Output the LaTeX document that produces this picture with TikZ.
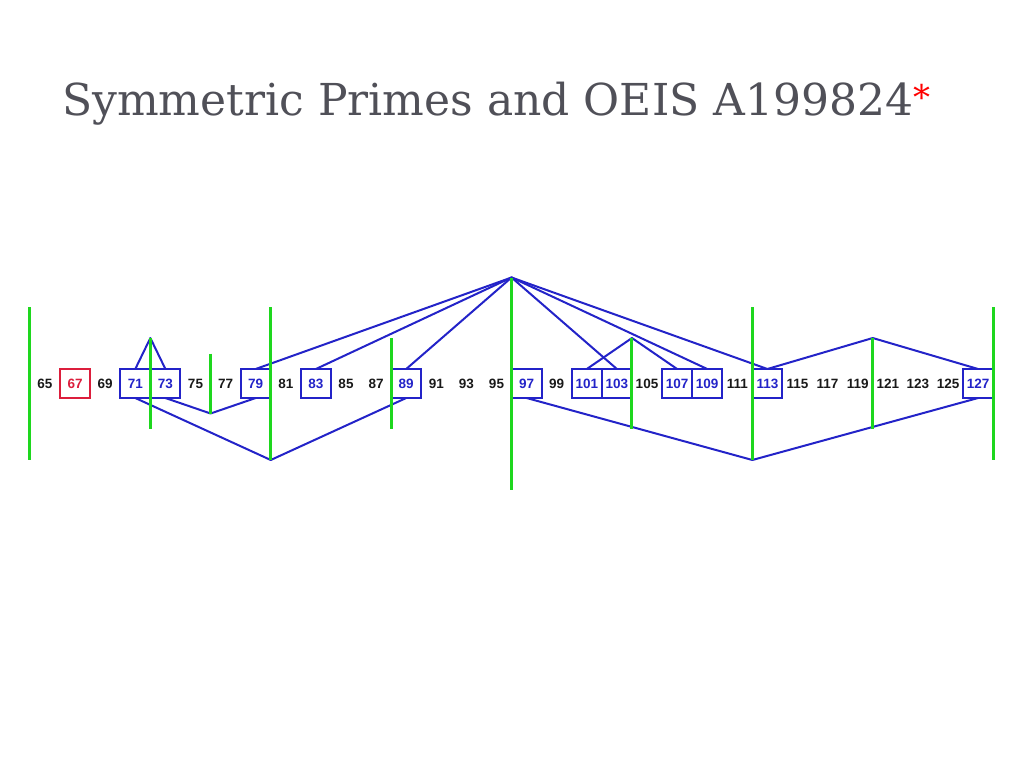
\documentclass[tikz,border=0pt]{standalone}
\usepackage{fontspec}
\newfontfamily\numfont{Liberation Sans}[BoldFont={Liberation Sans Bold}]
\newfontfamily\titlefont{DejaVu Serif}
\definecolor{lineblue}{RGB}{35,35,200}
\definecolor{sepgreen}{RGB}{30,215,30}
\definecolor{boxred}{RGB}{220,30,60}
\definecolor{titlegray}{RGB}{80,80,88}
\definecolor{numblack}{RGB}{25,25,25}
\begin{document}
\begin{tikzpicture}[x=1pt,y=-1pt,
  num/.style={font=\numfont\bfseries\fontsize{13.5}{13.5}\selectfont, text=numblack,
    inner sep=0pt, outer sep=0pt, minimum width=30.1pt, minimum height=29pt,
    text height=9.7pt, text depth=0pt},
  bluebox/.style={num, draw=lineblue, line width=2pt, text=lineblue},
  redbox/.style={num, draw=boxred, line width=2pt, text=boxred},
  sep/.style={draw=sepgreen, line width=3pt},
  link/.style={draw=lineblue, line width=2pt, line join=round, line cap=round}]
\useasboundingbox (0,0) rectangle (1024,768);
% title
\node[font=\titlefont\fontsize{44}{44}\selectfont, text=titlegray, anchor=base west, inner sep=0pt]
  (title) at (62,115) {Symmetric Primes and OEIS A199824\raisebox{6pt}{\textcolor{red}{\fontsize{34}{34}\selectfont*}}};
% numbers
\foreach \n in {65,69,75,77,81,85,87,91,93,95,99,105,111,115,117,119,121,123,125}
  \node[num] (n\n) at ({45+(\n-65)*15.05},383.5) {\n};
\foreach \n in {71,73,79,83,89,97,101,103,107,109,113,127}
  \node[bluebox] (n\n) at ({45+(\n-65)*15.05},383.5) {\n};
\node[redbox] (n67) at ({45+(67-65)*15.05},383.5) {67};
% separator end points
\foreach \m/\h in {64/76.5,72/45.5,76/30,80/76.5,88/45.5,96/106,104/45.5,112/76.5,120/45.5,128/76.5}{
  \coordinate (ga\m) at ({45+(\m-65)*15.05},{383.5-\h});
  \coordinate (gb\m) at ({45+(\m-65)*15.05},{383.5+\h});
}
% links
\draw[link] (n71.north) -- (ga72) -- (n73.north);
\draw[link] (n73.south) -- (gb76) -- (n79.south);
\draw[link] (n71.south) -- (gb80) -- (n89.south);
\foreach \p in {79,83,89,103,109,113}
  \draw[link] (ga96) -- (n\p.north);
\draw[link] (n101.north) -- (ga104) -- (n107.north);
\draw[link] (n97.south) -- (gb112) -- (n127.south);
\draw[link] (n113.north) -- (ga120) -- (n127.north);
% separators
\foreach \m in {64,72,76,80,88,96,104,112,120,128}
  \draw[sep] (ga\m) -- (gb\m);
\end{tikzpicture}
\end{document}
